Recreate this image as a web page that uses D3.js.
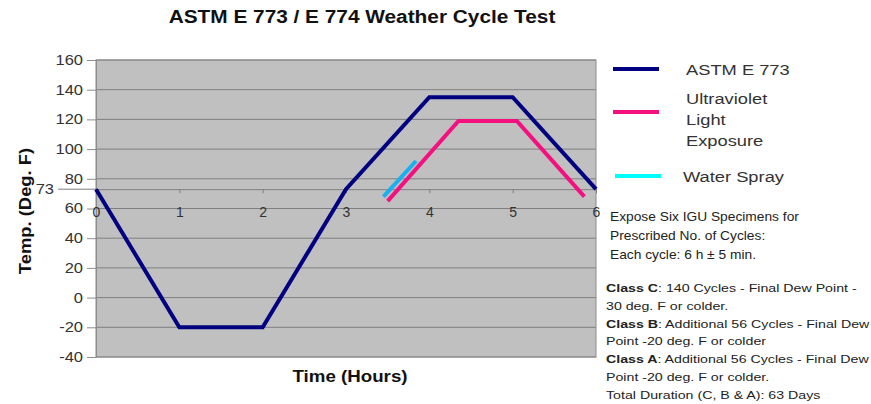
<!DOCTYPE html>
<html>
<head>
<meta charset="utf-8">
<script src="https://cdn.jsdelivr.net/npm/d3@7"></script>
<style>
  body { margin: 0; background: #fff; }
  svg { display: block; font-family: "Liberation Sans", Arial, sans-serif; }
</style>
</head>
<body>
<svg id="chart" width="871" height="404"></svg>
<script>
// series (hours, deg F)
const astmHours = [0, 1, 2, 3, 4, 5, 6];
const astmTemps = [73, -20, -20, 73, 135, 135, 73];
const uvHours = [3.5, 4.35, 5.05, 5.86];
const uvTemps = [65, 119, 119, 68];
const sprayHours = [3.45, 3.84];
const sprayTemps = [68, 92];

const xTicks = [0, 1, 2, 3, 4, 5, 6];
const yTicks = [-40, -20, 0, 20, 40, 60, 80, 100, 120, 140, 160];
const crossAt = 73;

const legendItems = [
  { lines: ['ASTM E 773'], color: '#000080' },
  { lines: ['Ultraviolet', 'Light', 'Exposure'], color: '#f5107f' },
  { lines: ['Water Spray'], color: '#00ffff' },
];
const noteLines = [
  'Expose Six IGU Specimens for',
  'Prescribed No. of Cycles:',
  'Each cycle: 6 h \u00b1 5 min.',
];
const classLines = [
  ['Class C', ': 140 Cycles - Final Dew Point -'],
  ['', '30 deg. F or colder.'],
  ['Class B', ': Additional 56 Cycles - Final Dew'],
  ['', 'Point -20 deg. F or colder'],
  ['Class A', ': Additional 56 Cycles - Final Dew'],
  ['', 'Point -20 deg. F or colder.'],
  ['', 'Total Duration (C, B & A): 63 Days'],
];

const svg = d3.select('#chart');
const plot = { left: 96, right: 596, top: 60, bottom: 357 };

const x = d3.scaleLinear().domain([0, 6]).range([plot.left, plot.right]);
const y = d3.scaleLinear().domain([-40, 160]).range([plot.bottom, plot.top]);

// the source picture is a bit wider than tall, text too
const label = (g, px, py, txt, size, sx) =>
  g.append('text')
    .attr('transform', `translate(${px},${py}) scale(${sx},1)`)
    .attr('font-size', size)
    .text(txt);

// plot background
svg.append('rect')
  .attr('x', plot.left).attr('y', plot.top)
  .attr('width', plot.right - plot.left).attr('height', plot.bottom - plot.top)
  .attr('fill', '#c0c0c0');

// gridlines
svg.append('g')
  .selectAll('line')
  .data(yTicks)
  .join('line')
  .attr('x1', plot.left).attr('x2', plot.right)
  .attr('y1', (d) => y(d)).attr('y2', (d) => y(d))
  .attr('stroke', '#7f7f7f')
  .attr('stroke-width', 1);

svg.append('rect')
  .attr('x', plot.left).attr('y', plot.top)
  .attr('width', plot.right - plot.left).attr('height', plot.bottom - plot.top)
  .attr('fill', 'none')
  .attr('stroke', '#8c8c8c')
  .attr('stroke-width', 1);

const fmt = (d) => String(d);
const tickSx = 1.18;

// y axis
const yAxis = svg.append('g')
  .attr('transform', `translate(${plot.left},0)`)
  .call(d3.axisLeft(y).tickValues(yTicks).tickFormat(fmt).tickSize(9).tickPadding(3));
yAxis.select('.domain').attr('stroke', '#8c8c8c');
yAxis.selectAll('.tick line').attr('stroke', '#8c8c8c');
yAxis.selectAll('.tick text')
  .attr('x', -13 / tickSx)
  .attr('transform', `scale(${tickSx},1)`)
  .attr('font-size', 14).attr('fill', '#333')
  .attr('font-family', '"Liberation Sans", Arial, sans-serif');

// x axis crossing at 73
const xAxis = svg.append('g')
  .attr('transform', `translate(0,${y(crossAt)})`)
  .call(d3.axisBottom(x).tickValues(xTicks).tickFormat(fmt).tickSize(4).tickPadding(14));
xAxis.select('.domain').attr('stroke', '#7f7f7f');
xAxis.selectAll('.tick line').attr('stroke', '#7f7f7f');
xAxis.selectAll('.tick text')
  .attr('font-size', 14).attr('fill', '#333')
  .attr('font-family', '"Liberation Sans", Arial, sans-serif');

svg.append('line')
  .attr('x1', 58).attr('x2', plot.left)
  .attr('y1', y(crossAt)).attr('y2', y(crossAt))
  .attr('stroke', '#7f7f7f');
label(svg, 54, y(crossAt) + 5, crossAt, 14, tickSx)
  .attr('text-anchor', 'end').attr('fill', '#333');

// series lines
const line = d3.line().x((d) => x(d[0])).y((d) => y(d[1]));
const series = [
  { hours: astmHours, temps: astmTemps, color: legendItems[0].color },
  { hours: uvHours, temps: uvTemps, color: legendItems[1].color },
  { hours: sprayHours, temps: sprayTemps, color: '#1ab0f0' },
];
svg.append('g')
  .selectAll('path')
  .data(series)
  .join('path')
  .attr('d', (s) => line(d3.zip(s.hours, s.temps)))
  .attr('fill', 'none')
  .attr('stroke', (s) => s.color)
  .attr('stroke-width', 4)
  .attr('stroke-linejoin', 'miter');

// titles
label(svg, 362, 23, 'ASTM E 773 / E 774 Weather Cycle Test', 17.5, 1.19)
  .attr('text-anchor', 'middle').attr('font-weight', 'bold').attr('fill', '#111');

label(svg, 350, 382, 'Time (Hours)', 16, 1.17)
  .attr('text-anchor', 'middle').attr('font-weight', 'bold').attr('fill', '#111');

svg.append('text')
  .attr('transform', 'translate(31,211) rotate(-90) scale(1.15,1)')
  .attr('text-anchor', 'middle')
  .attr('font-size', 16).attr('font-weight', 'bold').attr('fill', '#111')
  .text('Temp. (Deg. F)');

// legend
const legendY = [69, 112, 176];
const legendTextY = [[75], [104, 125, 146], [182]];
const legend = svg.append('g');
legendItems.forEach((item, i) => {
  legend.append('line')
    .attr('x1', i === 2 ? 615 : 613).attr('x2', i === 2 ? 661 : 659)
    .attr('y1', legendY[i]).attr('y2', legendY[i])
    .attr('stroke', item.color).attr('stroke-width', 4);
  item.lines.forEach((t, j) => {
    label(legend, i === 2 ? 683 : 686, legendTextY[i][j], t, 15, 1.22)
      .attr('fill', '#333');
  });
});

// notes
const notes = svg.append('g');
noteLines.forEach((t, i) => {
  label(notes, 610, 221 + i * 19, t, 13, 1.06).attr('fill', '#222');
});

const cls = svg.append('g');
classLines.forEach((parts, i) => {
  const t = cls.append('text')
    .attr('transform', `translate(606,${292 + i * 17.8}) scale(1.29,1)`)
    .attr('font-size', 11).attr('fill', '#222');
  if (parts[0]) t.append('tspan').attr('font-weight', 'bold').text(parts[0]);
  t.append('tspan').text(parts[1]);
});
</script>
</body>
</html>
